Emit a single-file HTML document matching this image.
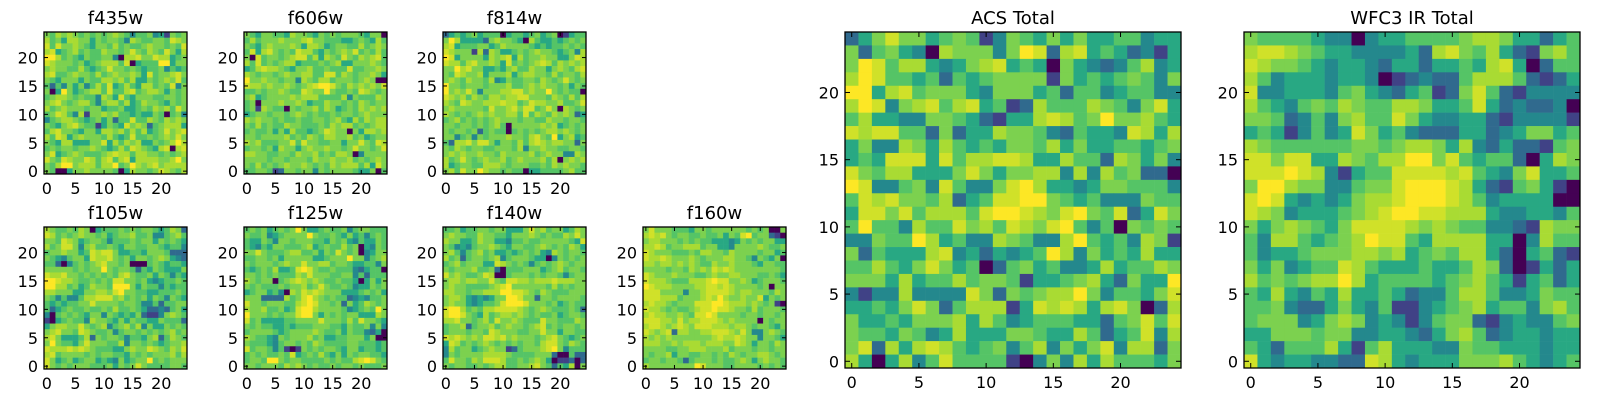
<!DOCTYPE html>
<html><head><meta charset="utf-8">
<style>
html,body{margin:0;padding:0;background:#fff;}
body{width:1600px;height:400px;overflow:hidden;font-family:"DejaVu Sans","Liberation Sans",sans-serif;}
svg text{font-family:"DejaVu Sans","Liberation Sans",sans-serif;}
</style></head>
<body>
<svg id="fig" width="1600" height="400" xmlns="http://www.w3.org/2000/svg"></svg>
<script>
// Heatmap values (level 0-9), rows listed top (y=24) to bottom (y=0)
const f435w = [
"6576765656567653556341656","7564776646566537655665876","8586676546657565567665658","7845675655766568657658647","9975654655663077866877456","8766656456777580455599466","6766557545686656545563545","7855676657567667648566786","6546664655776757446567685","5253646357584575477565836","6049645677585578567764656","5677656553764854666556656","6786567753677574576654656","7567666566455644565767586","5687537166767554544650563","3567765456462558557657676","6546786551465486762567774","5786654664776757574568678","7587467666575458556567686","6547744466847576744656797","5656656676545758765478078","6845676555678775776656567","8658766875785784777766796","6579967775779569767867777","6500466766665047665687657"];
const f606w = [
"6546655476654656566654660","5756667666786655544565475","6546766676477645665575676","5847865658775465676856575","6085665678857476586576785","7585656774555656744666765","4578776546675565558556676","7656656766775588576566764","9667665663765775666567600","8776766765678998657676768","5565667655876696556587656","6745666676777555573655576","5606667667645576656576566","5617655065667576456576767","4566566567656556566567666","7676656556556656754757677","6575655766555657677565677","5655646475545687660647767","6656666756576577667564566","7675556685866556646686587","5665647664676676656866568","7766556657667565776036666","6666566566657667667565676","6575656766765657677757486","5566512665663656666544605"];
const f814w = [
"2454564555045545645601455","6974444267665407544545656","7845556645766665454556565","8766617276445656766545637","9846666476784756676644687","8775786676485656787576767","6697866445467557664676578","6587667466674677665756657","6765766573465566576568656","9665666566675567676656465","9676863666778867669656550","8767576577677886665765757","7658766777877568776675568","6766666586678688568607656","7656567676677585765767624","5675656567666566557665665","6656656567506666676745656","6566562565505656567767656","6635636566676657865946745","5277868864665757876776626","6576566556665736676655665","6767667665766667567663376","7568656766756766675706767","7456655777656665565767665","6758669766565504455556755"];
const f105w = [
"7655657604555656566545762","8756567665645667556335675","6658764566535556566465654","7568863675565466556654553","5667664587886445546665222","6543566487786564665676432","5520356567866560005654554","6666656566965665254654446","8778665656565786556465354","9987765565658866564345565","9977564576659996465535455","7766644667768966554455565","6535335778886756564653654","5454556686666566533525566","5245655655657556542232564","3056565466365454621136765","1045655376654646554465552","4677668656735675736446565","6786658765563566565656756","7864445726566535546725765","6965546866655736656545667","8777878765554467668765768","7856666565665546565666757","8645645664543645669565666","8656566655564656865555665"];
const f125w = [
"5656456569644565563566555","6556345666696556546453565","5446536656665546564354465","5435466555674565575604365","6686555677556465865603466","5566564666664456669663567","6566656766866775665445536","5456574458986556555324550","6656565557686665566352555","7656605678767655655404646","6565556566756865565344656","4566453076878766644456564","6662222756897656552343556","8665666557898665626457656","7667556458997666653456596","9666565668996465656644476","8564444556666866657586654","6565544545556665546556363","5666654566667655646553240","7655436566675644556664600","6555435665657655556655545","8566535101656566546645545","5656556584565754646566554","5665996566555565655789865","6656665767656556566565556"];
const f140w = [
"5564556656644468675664576","6766557665546667656557686","7664457664435565566666548","6534356676546655676565764","6753567564454565643765665","7562566567356665440365656","5675666448765653565676566","6566675562055566645675665","8676556870056665656653566","6776776686588776777877766","6766555567896666665756566","7766566777998876576555666","6776434346699866266566665","6766434556899986665645655","8997565778888765676555652","8998654756776765655645665","7786656758667655586655576","5667256675676656785656656","5666566587666556686646655","8787676887867666567865456","4875656765656566578865765","3756645676612566678963555","3656666777765555666200522","5866576888755656764011202","6566556567755667865254706"];
const f160w = [
"6866655546656666665656006","7878656655655646589566210","6776665656554443465656644","7787566777566443666676556","8766655565776657666656645","8778766676566677665365460","7767767676557667666546655","6666566576768787666666665","8766676665567667766655654","8777655577789886676456665","9877766667788787666656066","8886666366788887677666576","8887775666787976676684656","7877656668889987776765610","8776565567889887665756665","7877667658898666656656656","8887768677888767666606566","7887678768887776776566546","8767827766778887686336765","7676766666667877876636654","7776676777677766876466576","6666556677766675666566566","6566746655665657656677656","5665665256665655676467665","7666666669866655666656565"];
const acsTotal = [
"2468664565136546464455344","6256430766636982784542314","6985774346784540643235734","7985545254566661645456536","9947856664366645255345533","7983678578451275557653684","5744336654214478756966754","8788552624476653254438747","4633764754546657464455456","4548884857788744755276463","8657744468646677373756220","9833563853368974434665553","5878665724588996545333655","4886857775899876896582486","5955375586758768953506565","3365597453376533795453761","6254447834243459736454744","5575468645025645334745576","6664745575665144567426449","3133733338626567796355468","4454686257771487874786027","6445466674753455544256858","6554653474446654475245837","6827478754563573646837726","7404735855551036374755546"];
const wfc3Total = [
"6555543303445555677644245","7887654433334278657421675","8766543443244244547840255","7534443443012322577752124","8334443564324512685213333","7543565765577644584232230","6652353675586433442133331","4541353486453222442346645","7655555566567764732422156","8868844765779968545520476","8889873145588887854368445","6997663356689998742156410","8984343467789998753444400","8763444567899887774334435","6467654688887676553321766","5377545679885477774403755","5344566677674565774204521","6463455875444544576201424","7565677974555545675414524","5474354744542335775334655","5563224643511345674553675","5666346763431356621343356","4466656633443246752344344","5425557415744433655444344","8434433228743444666754345"];
const panelTitles = ["f435w","f606w","f814w","f105w","f125w","f140w","f160w","ACS Total","WFC3 IR Total"];
const panelData = [f435w,f606w,f814w,f105w,f125w,f140w,f160w,acsTotal,wfc3Total];
const smallTicks = [0,5,10,15,20];
const bigXTicks = [0,5,10,15,20];
const bigYTicks = [0,5,10,15,20];

const NS="http://www.w3.org/2000/svg";
const svg=document.getElementById('fig');
const layout=[
 {x:44,y:32,w:143,h:142},{x:244,y:32,w:143,h:142},{x:443,y:32,w:143,h:142},
 {x:44,y:227,w:143,h:142},{x:244,y:227,w:143,h:142},{x:443,y:227,w:143,h:142},{x:643,y:227,w:143,h:142},
 {x:845,y:32,w:336,h:336},{x:1244,y:32,w:336,h:336}
];
const stops=["#440154","#482878","#3e4989","#31688e","#26828e","#1f9e89","#35b779","#6ece58","#b5de2b","#fde725"];
const levelFrac=[0,0.2,0.34,0.47,0.6,0.73,0.8,0.87,0.93,1];
function hex(c){return [1,3,5].map(i=>parseInt(c.substr(i,2),16));}
function viridis(t){
  const p=t*9, i=Math.min(8,Math.floor(p)), f=p-i;
  const a=hex(stops[i]), b=hex(stops[i+1]);
  return 'rgb('+a.map((v,k)=>Math.round(v+(b[k]-v)*f)).join(',')+')';
}
function colorOf(v){return viridis(levelFrac[v]);}
function mk(tag,attrs){const e=document.createElementNS(NS,tag);for(const k in attrs)e.setAttribute(k,attrs[k]);return e;}

panelData.forEach((rows,pi)=>{
  const L=layout[pi];
  const g=mk('g',{});
  
  
  svg.appendChild(g);
  const n=25;
  const sx=c=>L.x+(c+0.5)/n*L.w;
  const sy=r=>L.y+L.h-(r+0.5)/n*L.h;
  rows.forEach((rowStr,ri)=>{
    const yv=n-1-ri;
    for(let c=0;c<n;c++){
      const v=+rowStr[c];
      const x0=sx(c-0.5), x1=sx(c+0.5), y0=sy(yv+0.5), y1=sy(yv-0.5);
      const r=mk('rect',{x:x0.toFixed(2),y:y0.toFixed(2),width:(x1-x0+0.3).toFixed(2),height:(y1-y0+0.3).toFixed(2),fill:colorOf(v)});
      
      
      g.appendChild(r);
    }
  });
  const frame=mk('rect',{x:L.x,y:L.y,width:L.w,height:L.h,fill:'none',stroke:'#000','stroke-width':1.3});
  
  
  g.appendChild(frame);
  const big=pi>=7;
  const xt=big?bigXTicks:smallTicks, yt=big?bigYTicks:smallTicks;
  const tl=big?5:4;
  const fs=16;
  xt.forEach(t=>{
    const x=sx(t);
    g.appendChild(mk('line',{x1:x,y1:L.y+L.h,x2:x,y2:L.y+L.h-tl,stroke:'#000','stroke-width':1}));
    g.appendChild(mk('line',{x1:x,y1:L.y,x2:x,y2:L.y+tl,stroke:'#000','stroke-width':1}));
    const tx=mk('text',{x:x,y:L.y+L.h+20,'font-size':fs,'text-anchor':'middle',fill:'#000'});
    tx.textContent=t;
    
    
    g.appendChild(tx);
  });
  yt.forEach(t=>{
    const y=sy(t);
    g.appendChild(mk('line',{x1:L.x,y1:y,x2:L.x+tl,y2:y,stroke:'#000','stroke-width':1}));
    g.appendChild(mk('line',{x1:L.x+L.w,y1:y,x2:L.x+L.w-tl,y2:y,stroke:'#000','stroke-width':1}));
    const ty=mk('text',{x:L.x-6,y:y+6,'font-size':fs,'text-anchor':'end',fill:'#000'});
    ty.textContent=t;
    
    
    g.appendChild(ty);
  });
  const title=mk('text',{x:L.x+L.w/2,y:L.y-8,'font-size':18,'text-anchor':'middle',fill:'#000'});
  title.textContent=panelTitles[pi];
  
  
  g.appendChild(title);
});
</script>
</body></html>
